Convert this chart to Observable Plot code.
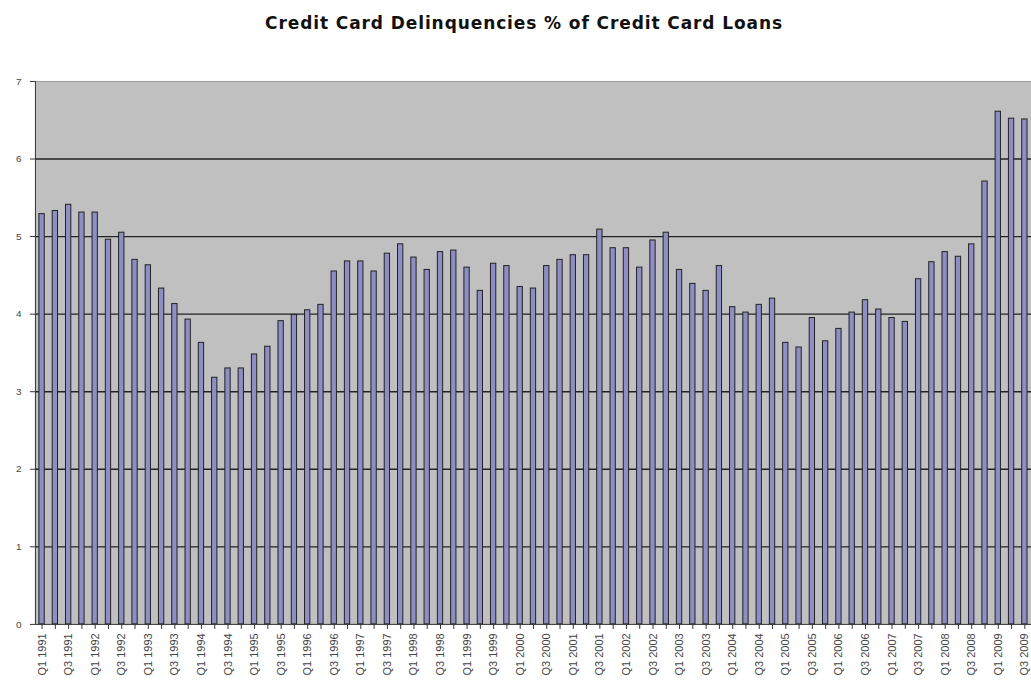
<!DOCTYPE html>
<html>
<head>
<meta charset="utf-8">
<script src="https://cdn.jsdelivr.net/npm/d3@7"></script>
<script src="https://cdn.jsdelivr.net/npm/@observablehq/plot@0.6"></script>
<style>
  html, body { margin: 0; padding: 0; background: #fff; overflow: hidden; width: 1031px; height: 687px; }
  #title { height: 60px; box-sizing: border-box; padding-top: 13px; padding-left: 17px; text-align: center; line-height: 20px;
    font-family: "DejaVu Sans", Verdana, sans-serif; font-weight: bold; font-size: 17px; letter-spacing: 0.9px; color: #111; white-space: nowrap; }
  #chart svg { display: block; }
</style>
</head>
<body>
<div id="title">Credit Card Delinquencies % of Credit Card Loans</div>
<div id="chart"></div>
<script>
// Quarter categories Q1 1991 .. Q3 2009
const years = d3.range(1991, 2010);
const quarterNames = ["Q1", "Q2", "Q3", "Q4"];
const quarters = years.flatMap(y => quarterNames.map(q => `${q} ${y}`)).slice(0, 75);

// Delinquency rate, % of credit card loans
const values = [
  5.29, 5.33, 5.41, 5.31, 5.31, 4.96, 5.05, 4.70, 4.63, 4.33, 4.13, 3.93,
  3.63, 3.18, 3.30, 3.30, 3.48, 3.58, 3.91, 3.99, 4.05, 4.12, 4.55, 4.68,
  4.68, 4.55, 4.78, 4.90, 4.73, 4.57, 4.80, 4.82, 4.60, 4.30, 4.65, 4.62,
  4.35, 4.33, 4.62, 4.70, 4.76, 4.76, 5.09, 4.85, 4.85, 4.60, 4.95, 5.05,
  4.57, 4.39, 4.30, 4.62, 4.09, 4.02, 4.12, 4.20, 3.63, 3.57, 3.95, 3.65,
  3.81, 4.02, 4.18, 4.06, 3.95, 3.90, 4.45, 4.67, 4.80, 4.74, 4.90, 5.71,
  6.61, 6.52, 6.51
];

const yTicks = [0, 1, 2, 3, 4, 5, 6, 7];
const gridLines = [1, 2, 3, 4, 5, 6];

const data = quarters.map((q, i) => ({q, v: values[i]}));

const chart = Plot.plot({
  width: 1033,
  height: 627,
  marginLeft: 35,
  marginRight: 0,
  marginTop: 21,
  marginBottom: 62,
  style: {background: "#fff", fontFamily: "'Liberation Sans', Arial, sans-serif", fontSize: "10px", color: "#333"},
  x: {
    domain: quarters,
    paddingInner: 0.6,
    paddingOuter: 0.3,
    round: false
  },
  y: {
    domain: [0, 7]
  },
  marks: [
    Plot.frame({fill: "#c0c0c0", stroke: null}),
    Plot.ruleY(gridLines, {stroke: "#222", strokeWidth: 1.4}),
    Plot.ruleY([7], {stroke: "#9a9a9a", strokeWidth: 1}),
    Plot.barY(data, {x: "q", y: "v", fill: "#8e8ec4", stroke: "#222", strokeWidth: 1}),
    Plot.frame({anchor: "left", stroke: "#333"}),
    Plot.ruleY([0], {stroke: "#333"}),
    Plot.axisX({
      label: null,
      tickRotate: -90,
      tickSize: 5,
      tickPadding: 4,
      fontSize: 11,
      fill: "#444",
      tickFormat: (d, i) => (i % 2 === 0 ? d : "")
    }),
    Plot.axisY({
      ticks: yTicks,
      tickFormat: d => String(d),
      label: null,
      tickSize: 5,
      tickPadding: 9,
      fontSize: 10,
      fill: "#444"
    })
  ]
});
document.getElementById("chart").appendChild(chart);
</script>
</body>
</html>
